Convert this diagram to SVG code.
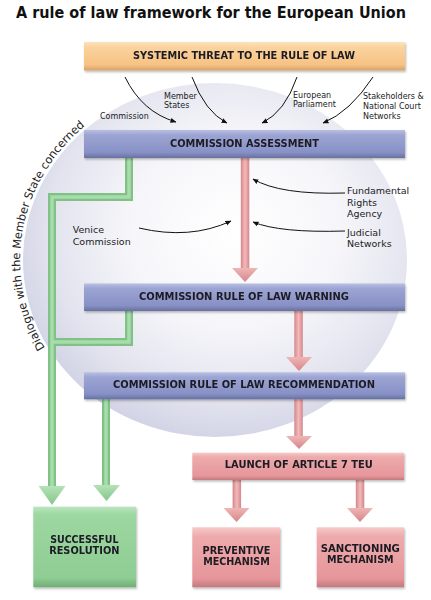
<svg xmlns="http://www.w3.org/2000/svg" width="431" height="600" viewBox="0 0 431 600">
<defs>
<radialGradient id="bg" cx="0.55" cy="0.42" r="0.6">
<stop offset="0" stop-color="#ffffff"/>
<stop offset="0.45" stop-color="#f6f6fa"/>
<stop offset="0.8" stop-color="#e2e3ee"/>
<stop offset="1" stop-color="#d1d3e5"/>
</radialGradient>
<linearGradient id="gOrange" x1="0" y1="0" x2="0" y2="1">
<stop offset="0" stop-color="#fde3bb"/><stop offset="0.18" stop-color="#fbd39e"/><stop offset="0.8" stop-color="#f7c283"/><stop offset="1" stop-color="#d6a26a"/>
</linearGradient>
<linearGradient id="gBlue" x1="0" y1="0" x2="0" y2="1">
<stop offset="0" stop-color="#b9c0e4"/><stop offset="0.18" stop-color="#9ca4d3"/><stop offset="0.8" stop-color="#8891c6"/><stop offset="1" stop-color="#67719f"/>
</linearGradient>
<linearGradient id="gPink" x1="0" y1="0" x2="0" y2="1">
<stop offset="0" stop-color="#f7c9c9"/><stop offset="0.15" stop-color="#eeabac"/><stop offset="0.85" stop-color="#e6969a"/><stop offset="1" stop-color="#c27a7e"/>
</linearGradient>
<linearGradient id="gGreen" x1="0" y1="0" x2="0" y2="1">
<stop offset="0" stop-color="#bbe5be"/><stop offset="0.1" stop-color="#9dd7a1"/><stop offset="0.88" stop-color="#8ecd93"/><stop offset="1" stop-color="#70ae75"/>
</linearGradient>
<linearGradient id="gShaft" x1="0" y1="0" x2="1" y2="0">
<stop offset="0" stop-color="#d4868a"/><stop offset="0.5" stop-color="#f3baba"/><stop offset="1" stop-color="#d4868a"/>
</linearGradient>
<linearGradient id="gHead" x1="0" y1="0" x2="0" y2="1">
<stop offset="0" stop-color="#f0b5b5"/><stop offset="1" stop-color="#d6868a"/>
</linearGradient>
<linearGradient id="gHeadG" x1="0" y1="0" x2="0" y2="1">
<stop offset="0" stop-color="#b4e2b7"/><stop offset="1" stop-color="#86c58b"/>
</linearGradient>
<filter id="sh" x="-10%" y="-20%" width="120%" height="150%">
<feDropShadow dx="1" dy="1.5" stdDeviation="1" flood-color="#000" flood-opacity="0.28"/>
</filter>
<marker id="ah" markerWidth="6" markerHeight="6" viewBox="0 0 6 6" refX="5.5" refY="3" orient="auto" markerUnits="userSpaceOnUse">
<path d="M0,0.5 L6,3 L0,5.5 Z" fill="#111"/>
</marker>
<path id="arcPath" d="M 45 348 A 195 180 0 0 1 132.6 96.9" fill="none"/>
</defs>
<style>
.title{font-family:"DejaVu Sans","Liberation Sans",sans-serif;font-weight:bold;font-size:15px;fill:#111}
.bx{font-family:"DejaVu Sans","Liberation Sans",sans-serif;font-weight:bold;font-size:9.6px;fill:#1a1a24;text-anchor:middle}
.lbl{font-family:"DejaVu Sans","Liberation Sans",sans-serif;font-size:8px;fill:#222}
.lbm{font-family:"DejaVu Sans","Liberation Sans",sans-serif;font-size:9.5px;fill:#222}
.arc{font-family:"DejaVu Sans","Liberation Sans",sans-serif;font-size:11.3px;fill:#222}
.thin{fill:none;stroke:#111;stroke-width:1;marker-end:url(#ah)}
.gout{fill:none;stroke:#80c286;stroke-width:8;stroke-linejoin:miter}
.gin{fill:none;stroke:#a9dcac;stroke-width:3.5;stroke-linejoin:miter}
</style>
<rect width="431" height="600" fill="#ffffff"/>
<text class="title" x="16" y="18" textLength="390" lengthAdjust="spacingAndGlyphs">A rule of law framework for the European Union</text>
<g id="background">
<ellipse cx="215" cy="260" rx="192" ry="177" fill="url(#bg)"/>
<text class="arc"><textPath href="#arcPath">Dialogue with the Member State concerned</textPath></text>
</g>
<g id="connectors">
<path class="thin" d="M125,77 Q142,112 176,122"/>
<path class="thin" d="M192,77 Q205,112 227,123"/>
<path class="thin" d="M297,77 Q285,112 262,123"/>
<path class="thin" d="M373,77 Q350,112 323,123"/>
<path class="thin" d="M139,228 Q190,240 231,221"/>
<path class="thin" d="M345,193 Q280,195 253,179"/>
<path class="thin" d="M345,231 Q280,233 253,222"/>
<path class="gout" d="M129,158 V197 H52 V487"/>
<path class="gout" d="M129,311 V342 H52"/>
<path class="gout" d="M106,399 V486"/>
<path class="gin" d="M129,158 V197 H52 V487"/>
<path class="gin" d="M129,311 V342 H52"/>
<path class="gin" d="M106,399 V486"/>
<polygon points="38.5,486 65.5,486 52,505" fill="url(#gHeadG)"/>
<polygon points="93,485 120,485 106.5,501" fill="url(#gHeadG)"/>
<rect x="240.8" y="158" width="8.5" height="111" fill="url(#gShaft)"/>
<polygon points="232,268 258,268 245,282" fill="url(#gHead)"/>
<rect x="294.3" y="311" width="8.5" height="47" fill="url(#gShaft)"/>
<polygon points="286,357 312,357 299,371" fill="url(#gHead)"/>
<rect x="294.3" y="399" width="8.5" height="38" fill="url(#gShaft)"/>
<polygon points="286,436 312,436 299,449" fill="url(#gHead)"/>
<rect x="232.6" y="480" width="8.5" height="29" fill="url(#gShaft)"/>
<polygon points="223.5,508 249.5,508 236.5,522" fill="url(#gHead)"/>
<rect x="355.8" y="480" width="8.5" height="29" fill="url(#gShaft)"/>
<polygon points="347,508 373,508 360,522" fill="url(#gHead)"/>
</g>
<g id="labels">
<text class="lbl" x="100" y="119">Commission</text>
<text class="lbl" x="164" y="98.5">Member</text>
<text class="lbl" x="164" y="108">States</text>
<text class="lbl" x="293" y="97.5">European</text>
<text class="lbl" x="293" y="107">Parliament</text>
<text class="lbl" x="363" y="99">Stakeholders &amp;</text>
<text class="lbl" x="363" y="109">National Court</text>
<text class="lbl" x="363" y="118.5">Networks</text>
<text class="lbm" x="347" y="194.3">Fundamental</text>
<text class="lbm" x="347" y="205.6">Rights</text>
<text class="lbm" x="347" y="216.9">Agency</text>
<text class="lbm" x="347" y="236">Judicial</text>
<text class="lbm" x="347" y="247.3">Networks</text>
<text class="lbm" x="72.7" y="233.3">Venice</text>
<text class="lbm" x="72.7" y="245">Commission</text>
</g>
<g id="threat" filter="url(#sh)">
<rect x="84" y="42" width="321" height="28.5" fill="url(#gOrange)"/>
<text class="bx" x="244" y="59.3" textLength="222" lengthAdjust="spacingAndGlyphs">SYSTEMIC THREAT TO THE RULE OF LAW</text>
</g>
<g id="assessment" filter="url(#sh)">
<rect x="84" y="130" width="321" height="28" fill="url(#gBlue)"/>
<text class="bx" x="244.5" y="146.7" textLength="149" lengthAdjust="spacingAndGlyphs">COMMISSION ASSESSMENT</text>
</g>
<g id="warning" filter="url(#sh)">
<rect x="84" y="283.5" width="321" height="27.5" fill="url(#gBlue)"/>
<text class="bx" x="244" y="299.5" textLength="210" lengthAdjust="spacingAndGlyphs">COMMISSION RULE OF LAW WARNING</text>
</g>
<g id="recommendation" filter="url(#sh)">
<rect x="84" y="372.3" width="321" height="27" fill="url(#gBlue)"/>
<text class="bx" x="244" y="387.9" textLength="262" lengthAdjust="spacingAndGlyphs">COMMISSION RULE OF LAW RECOMMENDATION</text>
</g>
<g id="launch" filter="url(#sh)">
<rect x="192.3" y="452.7" width="211.7" height="27.3" fill="url(#gPink)"/>
<text class="bx" x="298.8" y="467.9" textLength="148" lengthAdjust="spacingAndGlyphs">LAUNCH OF ARTICLE 7 TEU</text>
</g>
<g id="successful" filter="url(#sh)">
<rect x="33.3" y="506.7" width="102.7" height="80.6" fill="url(#gGreen)"/>
<text class="bx" x="84.3" y="542.7" textLength="68.3" lengthAdjust="spacingAndGlyphs">SUCCESSFUL</text>
<text class="bx" x="84.3" y="554.3" textLength="70.3" lengthAdjust="spacingAndGlyphs">RESOLUTION</text>
</g>
<g id="preventive" filter="url(#sh)">
<rect x="192.3" y="527.3" width="87.7" height="60" fill="url(#gPink)"/>
<text class="bx" x="236.5" y="553.7" textLength="68" lengthAdjust="spacingAndGlyphs">PREVENTIVE</text>
<text class="bx" x="236.5" y="565.3" textLength="66.7" lengthAdjust="spacingAndGlyphs">MECHANISM</text>
</g>
<g id="sanctioning" filter="url(#sh)">
<rect x="316.7" y="527.3" width="87.3" height="60" fill="url(#gPink)"/>
<text class="bx" x="360.3" y="551.7" textLength="79.3" lengthAdjust="spacingAndGlyphs">SANCTIONING</text>
<text class="bx" x="360.3" y="562.7" textLength="66.7" lengthAdjust="spacingAndGlyphs">MECHANISM</text>
</g>
</svg>
